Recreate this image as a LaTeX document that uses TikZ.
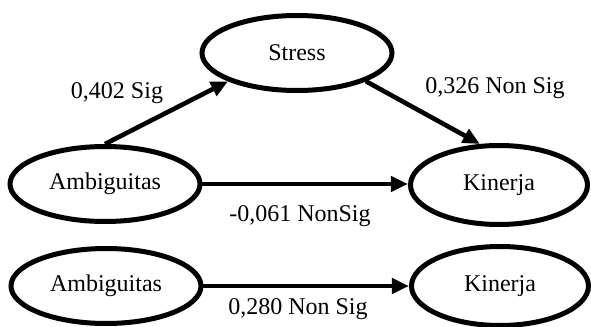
\documentclass[tikz,border=0pt]{standalone}
\usepackage{fontspec}
\setmainfont{Liberation Serif}
\usepackage{tikz}
\usetikzlibrary{shapes.geometric,arrows.meta}

\tikzset{
  var/.style={ellipse, draw, line width=2.5pt, inner sep=0pt,
    minimum width=95pt, minimum height=37.5pt, font=\fontsize{12}{14}\selectfont},
  path/.style={line width=2.3pt, -{Triangle[length=8.5pt,width=7.5pt]}},
  coef/.style={font=\fontsize{12}{14}\selectfont}
}

\begin{document}
\begin{tikzpicture}[x=0.5pt,y=-0.5pt]

% frame
\useasboundingbox (0,0) rectangle (591,327);

% variables, mediation model
\node[var] (stress) at (297,53) {Stress};
\node[var] (amba) at (105,184) {Ambiguitas};
\node[var, minimum width=88.5pt, minimum height=39.5pt] (kina) at (499,185) {Kinerja};

% variables, direct model
\node[var] (ambb) at (106,286) {Ambiguitas};
\node[var, minimum width=88.5pt, minimum height=39.5pt] (kinb) at (500,286) {Kinerja};

% paths
\draw[path] (amba.east) -- (kina.west |- amba.east);
\draw[path] (amba.north) -- (stress.south west);
\draw[path] (stress.south east) -- (kina.115);
\draw[path] (ambb.east) -- (kinb.west);

% coefficients
\node[coef] (ca) at (117,93) {0,402 Sig};
\node[coef] (cb) at (495,88) {0,326 Non Sig};
\node[coef] (cc) at (300,216) {-0,061 NonSig};
\node[coef] (cd) at (298,309) {0,280 Non Sig};

\end{tikzpicture}
\end{document}
